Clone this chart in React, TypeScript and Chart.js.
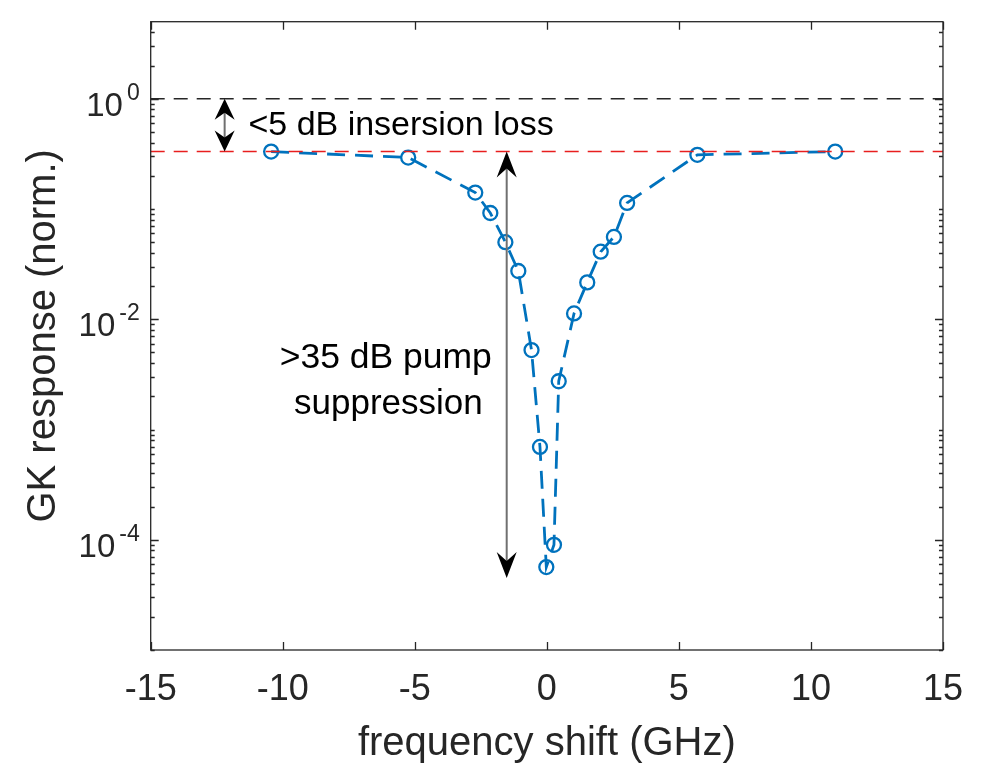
import React, { useEffect, useRef } from "react";
import { Chart, registerables } from "chart.js";

Chart.register(...registerables);

// ---- data ----
const freqShift = [-10.44, -5.25, -2.71, -2.14, -1.57, -1.08, -0.58, -0.26, -0.02, 0.27, 0.45, 1.03, 1.53, 2.04, 2.54, 3.04, 5.7, 10.92];
const gkResponse = [0.332, 0.293, 0.141, 0.092, 0.05, 0.0274, 0.00525, 0.000695, 0.0000565, 0.00009, 0.00274, 0.0113, 0.0216, 0.041, 0.0558, 0.1135, 0.31, 0.332];

const unityLevel = 1;
const lossLevel = 0.332;

const xRange = [-15, 15];
const yRange = [1e-5, 5];
const xTickValues = [-15, -10, -5, 0, 5, 10, 15];
const yLabelExponents = [0, -2, -4];

// annotation arrows (data units)
const arrowX = [-12.2, -1.52];
const arrowTop = [1, 0.332];
const arrowBottom = [0.332, 4.5e-5];

// annotation texts (data units)
const noteTexts = ["<5 dB insersion loss", ">35 dB pump", "suppression"];
const noteX = [-11.3, -6.1, -6.0];
const noteY = [0.468, 0.0036, 0.00138];
const noteAlign: CanvasTextAlign[] = ["left", "center", "center"];
const noteSize = [34, 35.5, 35];

const xTitle = "frequency shift (GHz)";
const yTitle = "GK response (norm.)";

const FONT = '"Liberation Sans", Arial, Helvetica, sans-serif';
const AXIS_COLOR = "#262626";

function drawHead(ctx: CanvasRenderingContext2D, x: number, tipY: number, dir: number, len: number, hw: number, back: number) {
  ctx.beginPath();
  ctx.moveTo(x, tipY);
  ctx.lineTo(x + hw, tipY - dir * len);
  ctx.lineTo(x, tipY - dir * back);
  ctx.lineTo(x - hw, tipY - dir * len);
  ctx.closePath();
  ctx.fill();
}

const matlabPlugin = {
  id: "matlabAxes",
  afterDraw(chart: any) {
    const { ctx, chartArea: a, scales } = chart;
    const xs = scales.x;
    const ys = scales.y;
    ctx.save();

    // arrows
    for (let i = 0; i < arrowX.length; i++) {
      const px = xs.getPixelForValue(arrowX[i]);
      const top = ys.getPixelForValue(arrowTop[i]);
      const bot = ys.getPixelForValue(arrowBottom[i]);
      ctx.strokeStyle = "#707070";
      ctx.lineWidth = 2;
      ctx.beginPath();
      ctx.moveTo(px, top + 4);
      ctx.lineTo(px, bot - 4);
      ctx.stroke();
      ctx.fillStyle = "#000";
      const small = bot - top < 80;
      const len = small ? 21 : 26;
      const hw = small ? 10 : 10;
      const back = small ? 14 : 17;
      drawHead(ctx, px, top, -1, len, hw, back);
      drawHead(ctx, px, bot, 1, len, hw, back);
    }

    // annotation texts
    ctx.fillStyle = "#000";
    ctx.textBaseline = "alphabetic";
    for (let i = 0; i < noteTexts.length; i++) {
      ctx.font = `${noteSize[i]}px ${FONT}`;
      ctx.textAlign = noteAlign[i];
      ctx.fillText(noteTexts[i], xs.getPixelForValue(noteX[i]), ys.getPixelForValue(noteY[i]));
    }

    // box
    ctx.strokeStyle = AXIS_COLOR;
    ctx.lineWidth = 1.3;
    ctx.strokeRect(a.left, a.top, a.right - a.left, a.bottom - a.top);

    // x ticks (inward, bottom and top)
    ctx.beginPath();
    for (const t of xTickValues) {
      const px = Math.round(xs.getPixelForValue(t)) + 0.5;
      ctx.moveTo(px, a.bottom);
      ctx.lineTo(px, a.bottom - 8);
      ctx.moveTo(px, a.top);
      ctx.lineTo(px, a.top + 8);
    }
    // y ticks (log, inward, left and right)
    for (let e = -5; e <= 0; e++) {
      for (let m = 1; m <= 9; m++) {
        const v = m * Math.pow(10, e);
        if (v < yRange[0] * 0.999 || v > yRange[1] * 0.999) continue;
        const major = m === 1 && yLabelExponents.indexOf(e) >= 0;
        const L = major ? 8 : 4;
        const py = Math.round(ys.getPixelForValue(v)) + 0.5;
        ctx.moveTo(a.left, py);
        ctx.lineTo(a.left + L, py);
        ctx.moveTo(a.right, py);
        ctx.lineTo(a.right - L, py);
      }
    }
    ctx.stroke();

    // y tick labels 10^e
    ctx.fillStyle = AXIS_COLOR;
    ctx.textAlign = "right";
    ctx.textBaseline = "alphabetic";
    const expRight = a.left - 11;
    for (const e of yLabelExponents) {
      const py = ys.getPixelForValue(Math.pow(10, e));
      const expStr = String(e);
      ctx.font = `23px ${FONT}`;
      const ew = ctx.measureText(expStr).width;
      ctx.fillText(expStr, expRight, py + 1);
      ctx.font = `33px ${FONT}`;
      ctx.fillText("10", expRight - ew - 4, py + 17);
    }

    // axis titles
    ctx.font = `40px ${FONT}`;
    ctx.textAlign = "center";
    ctx.fillText(xTitle, (a.left + a.right) / 2, 755);
    ctx.save();
    ctx.translate(55, (a.top + a.bottom) / 2);
    ctx.rotate(-Math.PI / 2);
    ctx.fillText(yTitle, 0, 0);
    ctx.restore();

    ctx.restore();
  },
};

export default function App() {
  const canvasRef = useRef<HTMLCanvasElement | null>(null);

  useEffect(() => {
    const canvas = canvasRef.current;
    if (!canvas) return;
    Chart.defaults.font.family = FONT;
    const points = freqShift.map((x, i) => ({ x, y: gkResponse[i] }));
    const chart = new Chart(canvas, {
      type: "line",
      data: {
        datasets: [
          {
            data: [{ x: xRange[0], y: unityLevel }, { x: xRange[1], y: unityLevel }],
            borderColor: "#262626",
            borderWidth: 1.6,
            borderDash: [14, 9],
            pointRadius: 0,
          },
          {
            data: [{ x: xRange[0], y: lossLevel }, { x: xRange[1], y: lossLevel }],
            borderColor: "rgb(232, 30, 30)",
            borderWidth: 1.5,
            borderDash: [14, 9],
            pointRadius: 0,
          },
          {
            data: points,
            borderColor: "#0072BD",
            borderWidth: 2.8,
            borderDash: [18, 10],
            pointStyle: "circle",
            pointRadius: 7,
            pointBorderWidth: 2.3,
            pointBorderColor: "#0072BD",
            pointBackgroundColor: "rgba(0,0,0,0)",
            tension: 0,
          },
        ],
      },
      options: {
        animation: false,
        responsive: true,
        maintainAspectRatio: false,
        layout: { padding: { top: 21.7, right: 34.3, left: 0, bottom: 0 } },
        plugins: { legend: { display: false }, tooltip: { enabled: false } },
        scales: {
          x: {
            type: "linear",
            min: xRange[0],
            max: xRange[1],
            grid: { display: false, drawTicks: false },
            border: { display: false },
            ticks: { stepSize: 5, color: AXIS_COLOR, font: { size: 36, family: FONT }, padding: 18, maxRotation: 0 },
            afterFit: (s: any) => { s.height = 115; },
          },
          y: {
            type: "logarithmic",
            min: yRange[0],
            max: yRange[1],
            grid: { display: false, drawTicks: false },
            border: { display: false },
            ticks: { display: false },
            afterFit: (s: any) => { s.width = 150.7; },
          },
        },
      },
      plugins: [matlabPlugin],
    } as any);
    return () => chart.destroy();
  }, []);

  return (
    <div style={{ position: "absolute", left: 0, top: 0, width: 981, height: 765, background: "#fff" }}>
      <canvas ref={canvasRef} />
    </div>
  );
}
